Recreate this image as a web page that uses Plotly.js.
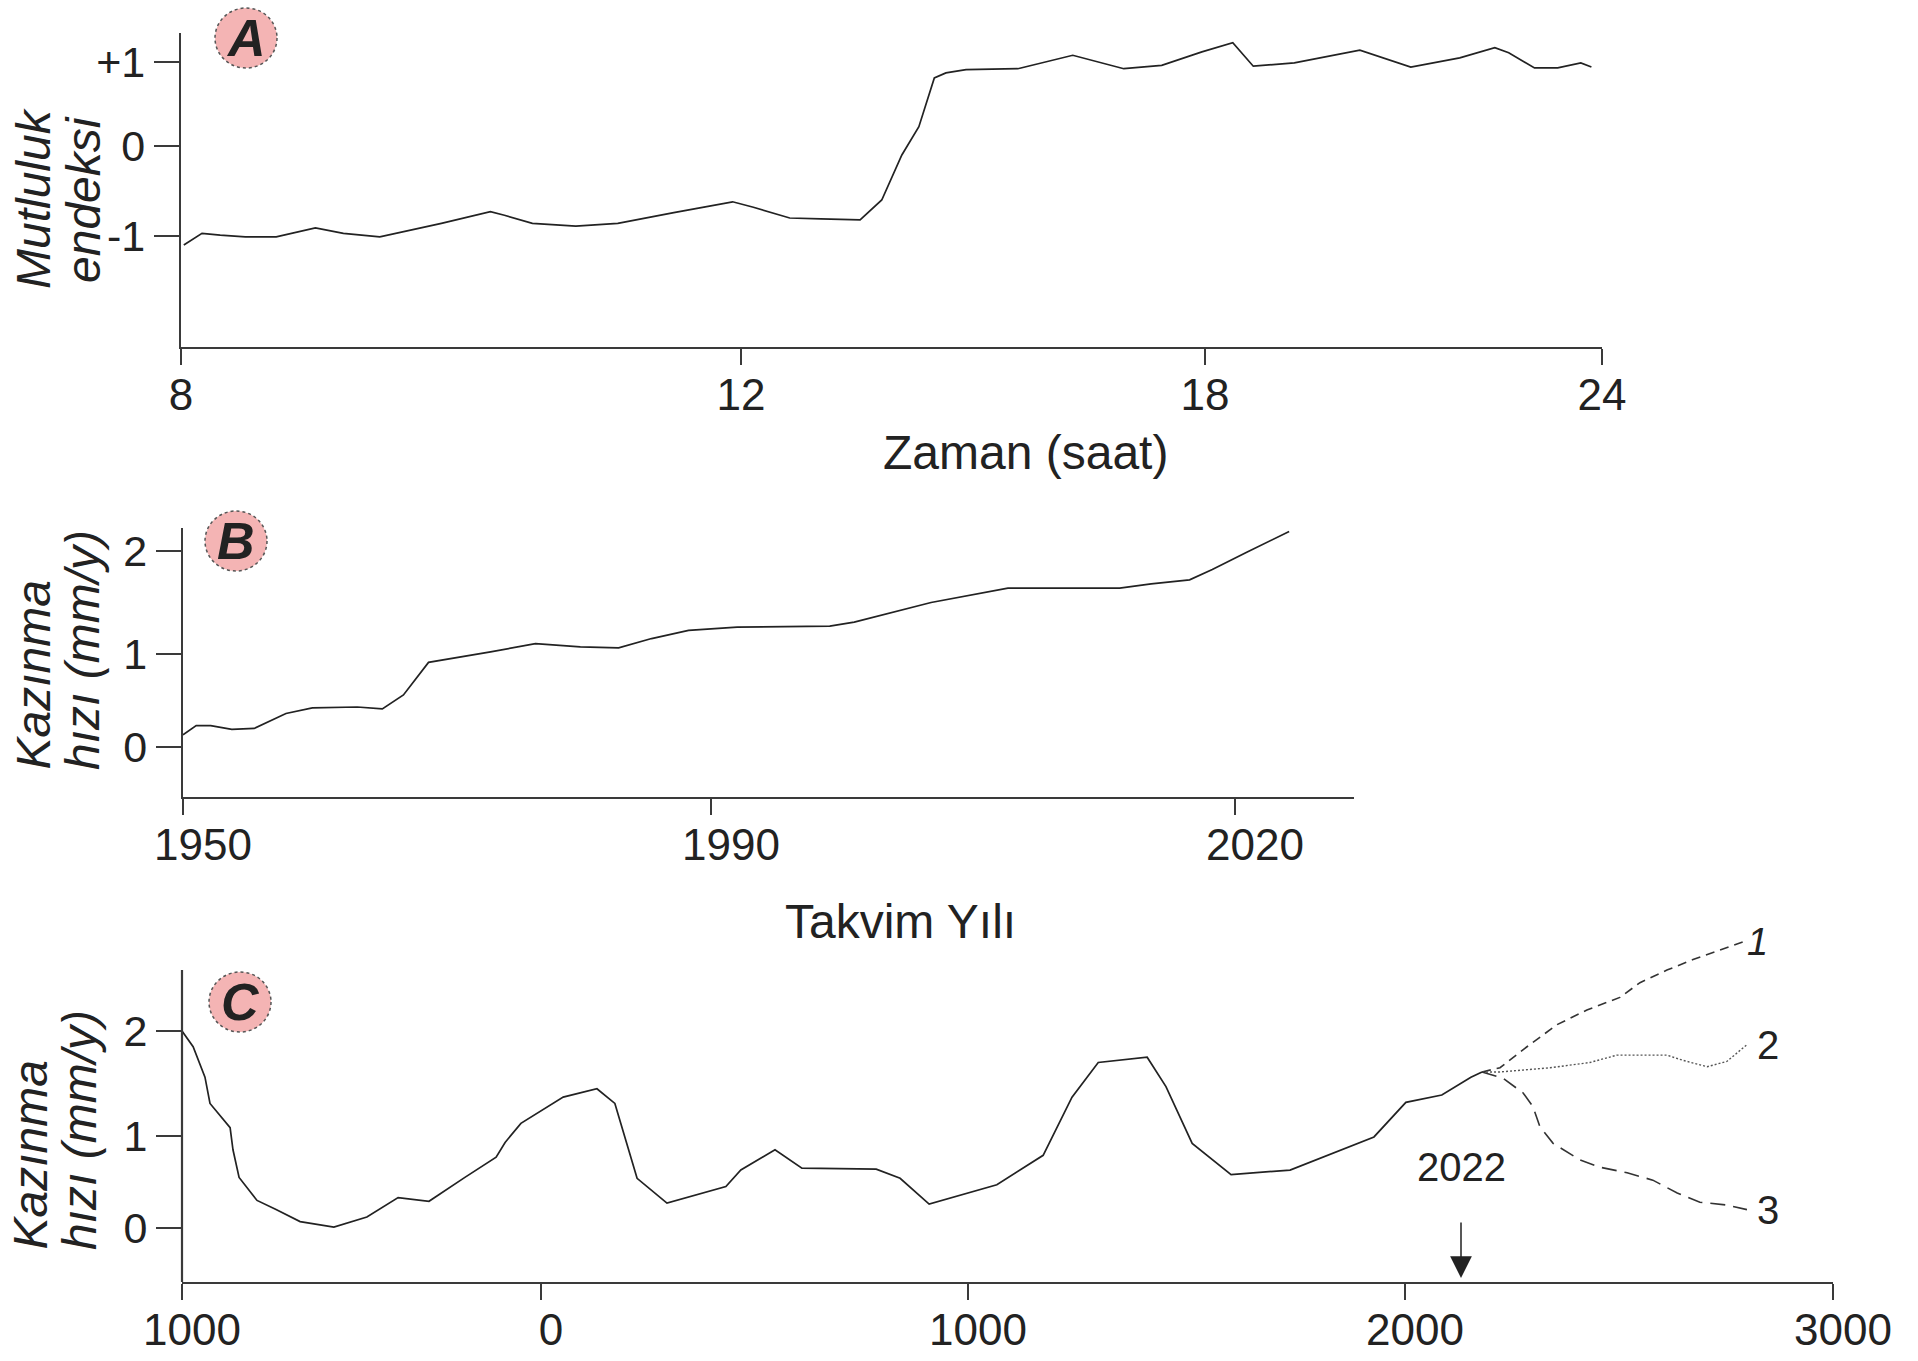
<!DOCTYPE html>
<html>
<head>
<meta charset="utf-8">
<script src="https://cdn.plot.ly/plotly-3.0.1.min.js"></script>
<style>html,body{margin:0;padding:0;background:#fff;}#chart{width:1918px;height:1361px;}</style>
</head>
<body>
<div id="chart"></div>
<script>
// ---------- Panel A : Mutluluk endeksi vs Zaman (saat) ----------
const hoursA = [8.02, 8.15, 8.28, 8.46, 8.68, 8.96, 9.16, 9.42, 9.86, 10.21, 10.31, 10.51, 10.82, 11.12, 11.52, 11.94, 12.16, 12.63, 13.03, 13.54, 13.82, 14.08, 14.30, 14.50, 14.65, 14.91, 15.58, 16.29, 16.95, 17.44, 17.96, 18.42, 18.73, 19.35, 20.34, 20.65, 21.11, 21.85, 22.38, 22.59, 22.98, 23.33, 23.68, 23.84];
const happinessA = [-1.10, -0.97, -0.99, -1.01, -1.01, -0.91, -0.97, -1.01, -0.86, -0.73, -0.77, -0.86, -0.89, -0.86, -0.74, -0.62, -0.68, -0.80, -0.81, -0.82, -0.60, -0.10, 0.23, 0.81, 0.87, 0.91, 0.92, 1.08, 0.92, 0.96, 1.12, 1.23, 0.95, 0.99, 1.14, 1.06, 0.94, 1.05, 1.17, 1.11, 0.93, 0.93, 0.99, 0.94];
const ticksAx = [8, 12, 18, 24];
const labelsAx = ['8', '12', '18', '24'];
const ticksAy = [-1, 0, 1];
const labelsAy = ['-1', '0', '+1'];

// ---------- Panel B : Kazınma hızı vs Takvim Yılı ----------
const yearsB = [1950.0, 1951.0, 1952.1, 1953.7, 1955.4, 1957.8, 1959.8, 1961.8, 1963.2, 1965.1, 1966.7, 1968.6, 1969.9, 1973.3, 1976.7, 1980.1, 1983.0, 1985.5, 1988.3, 1991.5, 1996.8, 1998.2, 2002.6, 2007.0, 2013.4, 2015.2, 2017.4, 2018.7, 2020.7, 2023.1];
const rateB = [0.13, 0.23, 0.23, 0.19, 0.20, 0.36, 0.42, 0.43, 0.43, 0.41, 0.56, 0.91, 0.94, 1.02, 1.10, 1.07, 1.06, 1.15, 1.23, 1.26, 1.27, 1.31, 1.50, 1.64, 1.64, 1.68, 1.72, 1.82, 1.99, 2.19];
const ticksBx = [1950, 1990, 2020];
const labelsBx = ['1950', '1990', '2020'];
const ticksBy = [0, 1, 2];
const labelsBy = ['0', '1', '2'];

// ---------- Panel C : Kazınma hızı, long record + projections ----------
const yearsC = [-1000, -969, -936, -922, -866, -858, -841, -791, -738, -671, -577, -485, -398, -312, -212, -125, -100, -56, 52, 131, 173, 225, 295, 433, 468, 548, 611, 785, 841, 909, 1066, 1172, 1238, 1298, 1410, 1453, 1513, 1602, 1737, 1929, 2002, 2086, 2154, 2180];
const rateC = [2.00, 1.85, 1.56, 1.31, 1.08, 0.85, 0.55, 0.30, 0.20, 0.07, 0.01, 0.12, 0.33, 0.29, 0.55, 0.77, 0.93, 1.12, 1.37, 1.45, 1.31, 0.54, 0.27, 0.45, 0.63, 0.85, 0.65, 0.64, 0.54, 0.26, 0.47, 0.79, 1.37, 1.70, 1.75, 1.47, 0.92, 0.58, 0.63, 0.99, 1.32, 1.39, 1.56, 1.61];
const proj1Years = [2180, 2222, 2285, 2355, 2425, 2502, 2549, 2612, 2673, 2736, 2790];
const proj1Rate = [1.61, 1.65, 1.85, 2.06, 2.20, 2.32, 2.46, 2.58, 2.68, 2.77, 2.85];
const proj2Years = [2180, 2222, 2339, 2432, 2495, 2612, 2650, 2706, 2752, 2799];
const proj2Rate = [1.61, 1.61, 1.65, 1.70, 1.77, 1.77, 1.72, 1.66, 1.71, 1.87];
const proj3Years = [2180, 2229, 2276, 2299, 2315, 2346, 2409, 2456, 2519, 2579, 2636, 2689, 2752, 2799];
const proj3Rate = [1.61, 1.55, 1.41, 1.28, 1.09, 0.92, 0.74, 0.66, 0.60, 0.52, 0.38, 0.28, 0.25, 0.20];
const projLabels = ['1', '2', '3'];
const ticksCx = [-1000, 0, 1000, 2000, 3000];
const labelsCx = ['1000', '0', '1000', '2000', '3000'];
const ticksCy = [0, 1, 2];
const labelsCy = ['0', '1', '2'];

// ---------- figure geometry ----------
const W = 1918, H = 1361;
const FONT = 'Liberation Sans, Arial, Helvetica, sans-serif';
const INK = '#222';
const AX = '#3a3a3a';

// The original drawing uses uneven tick spacing; each axis is a piecewise-linear
// scale pinned at its tick marks (value -> screen position in px).
function pinnedScale(vals, pos) {
  return function (v) {
    let i = 0;
    while (i < vals.length - 2 && v > vals[i + 1]) i++;
    const t = (v - vals[i]) / (vals[i + 1] - vals[i]);
    return pos[i] + t * (pos[i + 1] - pos[i]);
  };
}
const sAx = pinnedScale(ticksAx, [181, 741, 1205, 1602]);
const sAy = pinnedScale(ticksAy, [236, 146, 62]);
const sBx = pinnedScale(ticksBx, [183, 711, 1235]);
const sBy = pinnedScale(ticksBy, [747, 654, 551]);
const sCx = pinnedScale(ticksCx, [182, 541, 968, 1405, 1833]);
const sCy = pinnedScale(ticksCy, [1228, 1136, 1031]);

// plot boxes in px: [left, right, top, bottom]
const boxA = [181, 1602, 33, 347];
const boxB = [183, 1354, 528, 797];
const boxC = [182, 1833, 900, 1282];   // taller box so projection 1 is not clipped
const spineCtop = 970;                 // visible y-axis line of panel C starts here

function xAxis(box, tv, tt, extra) {
  return Object.assign({
    domain: [box[0] / W, box[1] / W], range: [box[0], box[1]],
    tickmode: 'array', tickvals: tv, ticktext: tt,
    ticks: 'outside', ticklen: 16, tickwidth: 2, tickcolor: AX,
    ticklabelstandoff: -8,
    showline: true, linecolor: AX, linewidth: 2.2,
    showgrid: false, zeroline: false, fixedrange: true,
    tickfont: { family: FONT, size: 44, color: INK }
  }, extra || {});
}
function yAxis(box, tv, tt, extra) {
  return Object.assign({
    domain: [1 - box[3] / H, 1 - box[2] / H], range: [box[3], box[2]],
    tickmode: 'array', tickvals: tv, ticktext: tt,
    ticks: 'outside', ticklen: 25, tickwidth: 2, tickcolor: AX,
    showline: true, linecolor: AX, linewidth: 2.2,
    showgrid: false, zeroline: false, fixedrange: true,
    tickfont: { family: FONT, size: 43, color: INK }
  }, extra || {});
}

const lineStyle = { color: INK, width: 1.7 };
const traces = [
  { x: hoursA.map(sAx), y: happinessA.map(sAy), xaxis: 'x', yaxis: 'y', mode: 'lines', line: lineStyle, name: 'Mutluluk endeksi', hoverinfo: 'skip' },
  { x: yearsB.map(sBx), y: rateB.map(sBy), xaxis: 'x2', yaxis: 'y2', mode: 'lines', line: lineStyle, name: 'Kazınma hızı', hoverinfo: 'skip' },
  { x: yearsC.map(sCx), y: rateC.map(sCy), xaxis: 'x3', yaxis: 'y3', mode: 'lines', line: lineStyle, name: 'Kazınma hızı', hoverinfo: 'skip' },
  { x: proj1Years.map(sCx), y: proj1Rate.map(sCy), xaxis: 'x3', yaxis: 'y3', mode: 'lines', line: { color: '#333', width: 1.6, dash: '9px,6px' }, name: projLabels[0], hoverinfo: 'skip' },
  { x: proj2Years.map(sCx), y: proj2Rate.map(sCy), xaxis: 'x3', yaxis: 'y3', mode: 'lines', line: { color: '#555', width: 1.4, dash: '2px,2px' }, name: projLabels[1], hoverinfo: 'skip' },
  { x: proj3Years.map(sCx), y: proj3Rate.map(sCy), xaxis: 'x3', yaxis: 'y3', mode: 'lines', line: { color: '#333', width: 1.6, dash: '15px,8px' }, name: projLabels[2], hoverinfo: 'skip' }
];

function P(x, y) { return { x: x / W, y: 1 - y / H, xref: 'paper', yref: 'paper' }; }
function txt(x, y, text, size, opts) {
  return Object.assign(P(x, y), { text: text, showarrow: false, font: { family: FONT, size: size, color: INK }, xanchor: 'center', yanchor: 'middle' }, opts || {});
}
// label at the end of a projection line (scale output is already in px)
function endLabel(xs, ys, text, size, shift) {
  const n = xs.length - 1;
  return txt(sCx(xs[n]) + shift, sCy(ys[n]), text, size, { xanchor: 'left' });
}

const annotations = [
  // x-axis titles
  txt(1025, 452, 'Zaman (saat)', 48),
  txt(900, 921, 'Takvim Yılı', 48),
  // y-axis titles (two lines each)
  txt(33, 198, '<i>Mutluluk</i>', 48, { textangle: -90 }),
  txt(83, 200, '<i>endeksi</i>', 48, { textangle: -90 }),
  txt(33, 772, '<i>Kazınma</i>', 48, { textangle: -90, yanchor: 'bottom' }),
  txt(82, 772, '<i>hızı (mm/y)</i>', 48, { textangle: -90, yanchor: 'bottom' }),
  txt(30, 1252, '<i>Kazınma</i>', 48, { textangle: -90, yanchor: 'bottom' }),
  txt(79, 1252, '<i>hızı (mm/y)</i>', 48, { textangle: -90, yanchor: 'bottom' }),
  // panel letters
  txt(246, 38, '<b><i>A</i></b>', 52),
  txt(236, 541, '<b><i>B</i></b>', 52),
  txt(240, 1002, '<b><i>C</i></b>', 52),
  // 2022 marker
  txt(1461, 1167, '2022', 40),
  Object.assign(P(1461, 1278), { text: ' ', showarrow: true, ax: 0, ay: -58, arrowhead: 2, arrowsize: 2.9, arrowwidth: 1.5, arrowcolor: INK, standoff: 0, startstandoff: 0, font: { size: 2 } }),
  // scenario labels at line ends
  endLabel(proj1Years, proj1Rate, '<i>' + projLabels[0] + '</i>', 38, 2),
  endLabel(proj2Years, proj2Rate, projLabels[1], 40, 8),
  endLabel(proj3Years, proj3Rate, projLabels[2], 40, 8)
];

function badge(cx, cy) {
  return { type: 'circle', xref: 'paper', yref: 'paper', x0: (cx - 31) / W, x1: (cx + 31) / W, y0: 1 - (cy + 30) / H, y1: 1 - (cy - 30) / H,
    fillcolor: '#f4b4b4', line: { color: '#555', width: 1.5, dash: 'dot' }, layer: 'below' };
}
// y-axis spine for panel C drawn as a shape so it can stop below the box top
const spineC = { type: 'line', xref: 'paper', yref: 'paper', x0: boxC[0] / W, x1: boxC[0] / W, y0: 1 - boxC[3] / H, y1: 1 - spineCtop / H,
  line: { color: AX, width: 2.2 }, layer: 'above' };

const layout = {
  width: W, height: H,
  margin: { l: 0, r: 0, t: 0, b: 0 },
  paper_bgcolor: '#fff', plot_bgcolor: 'rgba(0,0,0,0)',
  showlegend: false,
  font: { family: FONT, color: INK },
  xaxis: xAxis(boxA, ticksAx.map(sAx), labelsAx, { anchor: 'y' }),
  yaxis: yAxis(boxA, ticksAy.map(sAy), labelsAy, { anchor: 'x' }),
  xaxis2: xAxis(boxB, ticksBx.map(sBx), labelsBx, { anchor: 'y2', ticklabelshift: 20 }),
  yaxis2: yAxis(boxB, ticksBy.map(sBy), labelsBy, { anchor: 'x2' }),
  xaxis3: xAxis(boxC, ticksCx.map(sCx), labelsCx, { anchor: 'y3', ticklabelshift: 10 }),
  yaxis3: yAxis(boxC, ticksCy.map(sCy), labelsCy, { anchor: 'x3', showline: false }),
  shapes: [badge(246, 38), badge(236, 541), badge(240, 1002), spineC],
  annotations: annotations
};

Plotly.newPlot('chart', traces, layout, { displayModeBar: false, staticPlot: true });
</script>
</body>
</html>
